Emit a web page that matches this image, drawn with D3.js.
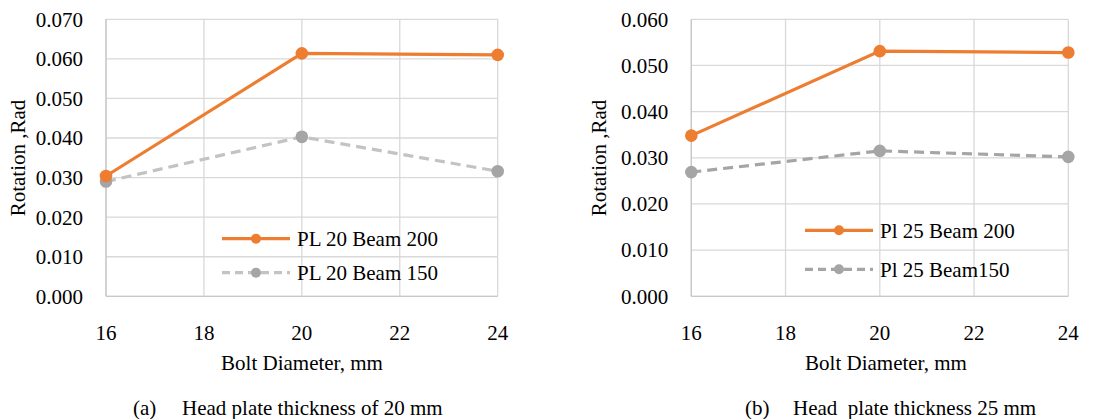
<!DOCTYPE html>
<html>
<head>
<meta charset="utf-8">
<script src="https://cdn.jsdelivr.net/npm/d3@7"></script>
<style>
  body { margin: 0; background: #fff; }
  svg text { font-family: "Liberation Serif", "Times New Roman", serif; font-size: 21px; fill: #000; white-space: pre; }
</style>
</head>
<body>
<script>
// bolt diameters (mm)
let diameters = [16, 20, 24];
let xTicks = [16, 18, 20, 22, 24];

// (a) head plate 20 mm
let plA200 = [0.0304, 0.0614, 0.0610];
let plA150 = [0.0290, 0.0403, 0.0316];
// (b) head plate 25 mm
let plB200 = [0.0348, 0.0531, 0.0528];
let plB150 = [0.0269, 0.0315, 0.0302];

let namesA = ['PL 20 Beam 200', 'PL 20 Beam 150'];
let namesB = ['Pl 25 Beam 200', 'Pl 25 Beam150'];
let captionA = ['(a)', 'Head plate thickness of 20 mm'];
let captionB = ['(b)', 'Head  plate thickness 25 mm'];

let svg = d3.select('body').append('svg')
            .attr('width', 1094)
            .attr('height', 419);

function drawChart(opt) {
  let x = d3.scaleLinear().domain([16, 24]).range([opt.left, opt.right]);
  let y = d3.scaleLinear().domain([0, opt.yMax]).range([296.3, 19.3]);
  let yTicks = d3.range(0, opt.yMax + 0.0001, 0.01);

  let g = svg.append('g');

  // gridlines
  g.selectAll('line.hgrid').data(yTicks).enter().append('line')
    .attr('x1', opt.left).attr('x2', opt.right)
    .attr('y1', (d) => y(d)).attr('y2', (d) => y(d))
    .attr('stroke', '#d9d9d9').attr('stroke-width', 1.3);
  g.selectAll('line.vgrid').data(xTicks).enter().append('line')
    .attr('y1', y(0)).attr('y2', y(opt.yMax))
    .attr('x1', (d) => x(d)).attr('x2', (d) => x(d))
    .attr('stroke', '#d9d9d9').attr('stroke-width', 1.3);
  // axis lines
  g.append('line').attr('x1', opt.left).attr('x2', opt.left)
    .attr('y1', y(0)).attr('y2', y(opt.yMax))
    .attr('stroke', '#c8c8c8').attr('stroke-width', 1.3);
  g.append('line').attr('x1', opt.left).attr('x2', opt.right)
    .attr('y1', y(0)).attr('y2', y(0))
    .attr('stroke', '#c8c8c8').attr('stroke-width', 1.3);

  // tick labels
  g.selectAll('text.ytick').data(yTicks).enter().append('text')
    .attr('x', opt.left - 23).attr('y', (d) => y(d)).attr('dy', '0.35em')
    .attr('text-anchor', 'end')
    .text((d) => d3.format('.3f')(d));
  g.selectAll('text.xtick').data(xTicks).enter().append('text')
    .attr('x', (d) => x(d)).attr('y', 333).attr('dy', '0.35em')
    .attr('text-anchor', 'middle')
    .text((d) => d);

  // axis titles
  g.append('text')
    .attr('transform', 'translate(' + opt.yTitleX + ',158) rotate(-90)')
    .attr('dy', '0.35em').attr('text-anchor', 'middle')
    .text('Rotation ,Rad');
  g.append('text')
    .attr('x', opt.xTitleX).attr('y', 363).attr('dy', '0.35em')
    .attr('text-anchor', 'middle')
    .text('Bolt Diameter, mm');

  // series
  let line = d3.line().x((d, i) => x(diameters[i])).y((d) => y(d));
  let series = [
    { values: opt.s200, color: '#ed7d31', marker: '#ed7d31', dash: null },
    { values: opt.s150, color: opt.grayLine, marker: '#a5a5a5', dash: '10,6' }
  ];
  series.slice().reverse().forEach((s) => {
    g.append('path').attr('d', line(s.values))
      .attr('fill', 'none').attr('stroke', s.color).attr('stroke-width', 3.2)
      .attr('stroke-dasharray', s.dash);
  });
  series.slice().reverse().forEach((s) => {
    g.selectAll(null).data(s.values).enter().append('circle')
      .attr('cx', (d, i) => x(diameters[i])).attr('cy', (d) => y(d))
      .attr('r', 6.3).attr('fill', s.marker);
  });

  // legend
  series.forEach((s, i) => {
    let ly = opt.legendY[i];
    g.append('line').attr('x1', opt.legendX).attr('x2', opt.legendX + 68)
      .attr('y1', ly).attr('y2', ly)
      .attr('stroke', s.color).attr('stroke-width', 3.2)
      .attr('stroke-dasharray', s.dash ? '8,5' : null);
    g.append('circle').attr('cx', opt.legendX + 34).attr('cy', ly)
      .attr('r', 5).attr('fill', s.marker);
    g.append('text').attr('x', opt.legendX + 75).attr('y', ly).attr('dy', '0.35em')
      .text(opt.names[i]);
  });

  // caption
  g.append('text').attr('x', opt.capX[0]).attr('y', 408).attr('dy', '0.35em')
    .text(opt.caption[0]);
  g.append('text').attr('x', opt.capX[1]).attr('y', 408).attr('dy', '0.35em')
    .text(opt.caption[1]);
}

drawChart({
  left: 106, right: 497.7, yMax: 0.07,
  s200: plA200, s150: plA150, grayLine: '#c3c3c3',
  names: namesA, legendX: 222, legendY: [238.7, 272.7],
  yTitleX: 18, xTitleX: 302,
  caption: captionA, capX: [133, 182]
});

drawChart({
  left: 691.3, right: 1068.3, yMax: 0.06,
  s200: plB200, s150: plB150, grayLine: '#a5a5a5',
  names: namesB, legendX: 805, legendY: [230.3, 269.3],
  yTitleX: 599, xTitleX: 886,
  caption: captionB, capX: [745, 793]
});
</script>
</body>
</html>
